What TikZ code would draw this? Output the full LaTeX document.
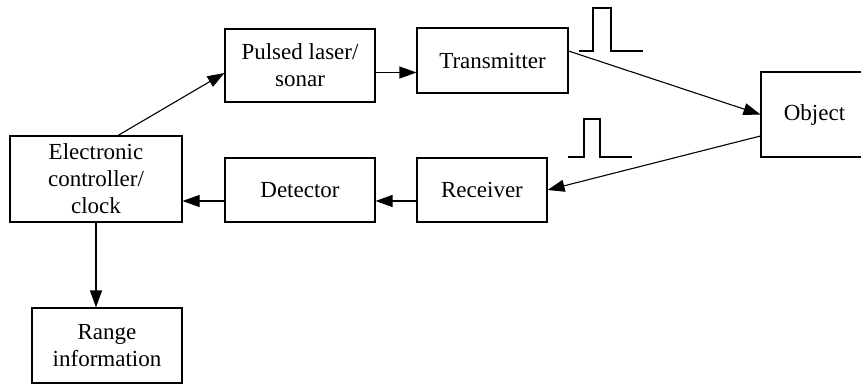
\documentclass[tikz,border=0pt]{standalone}
\usepackage{fontspec}
\setmainfont{Liberation Serif}
\usetikzlibrary{arrows.meta,calc}
\begin{document}
\begin{tikzpicture}[x=1pt,y=-1pt,
  blk/.style={draw,line width=1.1pt,inner sep=0pt,align=center,
    font=\fontsize{23}{27}\selectfont},
  flow/.style={draw,line width=1.1pt,-{Triangle[length=17pt,width=12pt]}},
  pulse/.style={draw,line width=1.1pt}]
\useasboundingbox (0,0) rectangle (861,383);

% blocks
\node[blk,minimum width=150pt,minimum height=73pt] (pulsed) at (300,65.5) {Pulsed laser/\\sonar};
\node[blk,minimum width=151pt,minimum height=65pt] (trans) at (492.5,60.5) {Transmitter};
\node[blk,minimum width=107pt,minimum height=85pt] (obj) at (814.5,114.5) {Object};
\node[blk,minimum width=172pt,minimum height=86pt] (elec) at (96,179) {Electronic\\controller/\\clock};
\node[blk,minimum width=150pt,minimum height=64pt] (det) at (300,190) {Detector};
\node[blk,minimum width=130pt,minimum height=64pt] (recv) at (482,190) {Receiver};
\node[blk,minimum width=150pt,minimum height=75pt] (range) at (107,345.5) {Range\\information};

% connection points
\coordinate (p1) at ([yshift=-7pt]pulsed.east);
\coordinate (r1) at ([yshift=-11pt]recv.west);
\coordinate (d1) at ([yshift=-11pt]det.west);

% signal flow
\draw[flow] ([xshift=22pt]elec.north) -- ([yshift=-7.5pt]pulsed.west);
\draw[flow] (p1) -- (p1 -| trans.west);
\draw[flow] ([yshift=9.5pt]trans.east) -- (obj.west);
\draw[flow] ([yshift=-21.5pt]obj.west) -- (recv.east);
\draw[flow] (r1) -- (r1 -| det.east);
\draw[flow] (d1) -- (d1 -| elec.east);
\draw[flow] (elec.south) -- (elec.south |- range.north);

% transmitted and received pulses
\draw[pulse] (579,51) -- (593,51) -- (593,8) -- (611,8) -- (611,51) -- (643,51);
\draw[pulse] (568,157) -- (584,157) -- (584,119) -- (600,119) -- (600,157) -- (632,157);
\end{tikzpicture}
\end{document}
